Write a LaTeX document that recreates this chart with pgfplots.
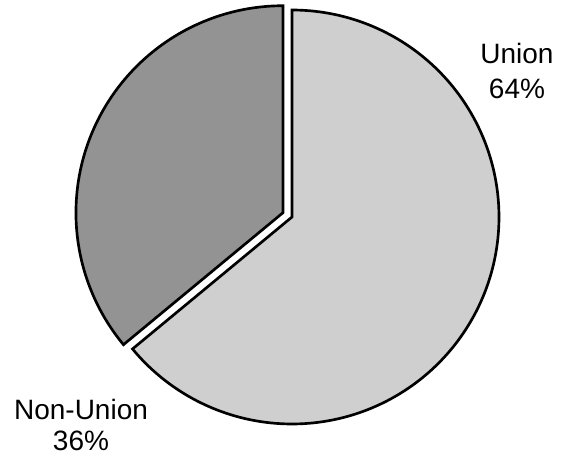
\documentclass[border=0pt]{standalone}
\usepackage{pgfplots}
\usepackage{pgfplotstable}
\pgfplotsset{compat=1.18}
\usepackage{fontspec}
\setmainfont{Liberation Sans}
\definecolor{unionfill}{HTML}{CFCFCF}
\definecolor{nonunionfill}{HTML}{939393}
\pgfplotstableread{
label value
Union 64
NonUnion 36
}\piedata
\pgfplotstablegetelem{0}{value}\of\piedata \let\unionval\pgfplotsretval
\pgfplotstablegetelem{1}{value}\of\piedata \let\nonunionval\pgfplotsretval
% geometry in reference pixels (y measured upward)
\def\cx{292}\def\cy{237}\def\rr{207}
\pgfmathsetmacro{\uend}{90-3.6*\unionval}   % union runs clockwise from 12 o'clock
\pgfmathsetmacro{\nend}{90+3.6*\nonunionval}
\pgfmathsetmacro{\nmid}{90+1.8*\nonunionval}
\pgfmathsetmacro{\ncx}{\cx+10*cos(\nmid)}
\pgfmathsetmacro{\ncy}{\cy+10*sin(\nmid)}
\begin{document}
\begin{tikzpicture}
\begin{axis}[
  width=423.75pt, height=340.5pt, scale only axis,
  xmin=0, xmax=565, ymin=0, ymax=454,
  axis lines=none, clip=false,
]
\addplot[draw=black, line width=2pt, fill=unionfill, line join=miter,
  domain=\uend:90, samples=181, variable=\t]
  ({\cx+\rr*cos(\t)},{\cy+\rr*sin(\t)}) -- (axis cs:\cx,\cy) -- cycle;
\addplot[draw=black, line width=2pt, fill=nonunionfill, line join=miter,
  domain=90:\nend, samples=121, variable=\t]
  ({\ncx+\rr*cos(\t)},{\ncy+\rr*sin(\t)}) -- (axis cs:\ncx,\ncy) -- cycle;
\node[align=center, inner sep=0pt, font=\fontsize{21pt}{26pt}\selectfont] at (axis cs:517,383) {Union\\\unionval\%};
\node[align=center, inner sep=0pt, font=\fontsize{21pt}{23pt}\selectfont] at (axis cs:81,29) {Non-Union\\\nonunionval\%};
\end{axis}
\pgfresetboundingbox
\useasboundingbox (current axis.south west) rectangle (current axis.north east);
\end{tikzpicture}
\end{document}
